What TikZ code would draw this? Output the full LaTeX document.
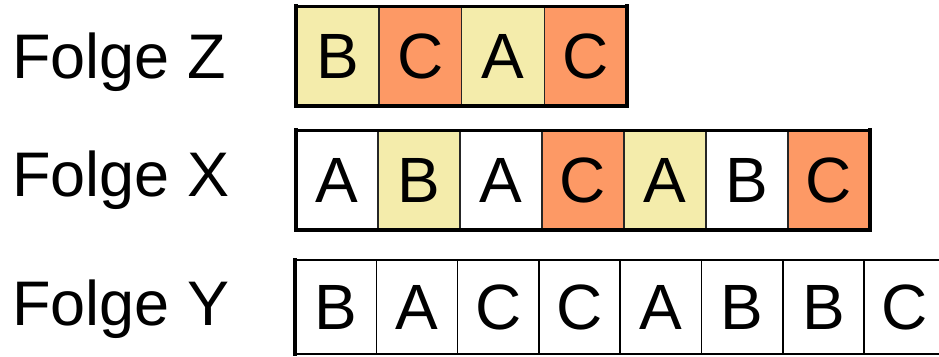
\documentclass[tikz,border=0pt]{standalone}
\usepackage{fontspec}
\setmainfont{Liberation Sans}
\usepackage{tikz}
\usetikzlibrary{positioning}
\definecolor{seqyellow}{HTML}{F4ECAB}
\definecolor{seqorange}{HTML}{FD9965}

\begin{document}
\begin{tikzpicture}[x=1pt, y=-1pt,
    cell/.style={draw=black!85, line width=1.5pt, inner sep=0pt, outer sep=0pt,
      minimum height=100pt, anchor=west, font=\fontsize{64}{64}\selectfont},
    plain/.style={cell, fill=white},
    yel/.style={cell, fill=seqyellow},
    ora/.style={cell, fill=seqorange},
    rowlabel/.style={anchor=base west, inner sep=0pt, font=\fontsize{63}{63}\selectfont},
    frame/.style={line width=4.5pt, line cap=rect}]
    \useasboundingbox (0,0) rectangle (939,356);
    % labels
    \node[rowlabel] (lz) at (12,78) {Folge Z};
    \node[rowlabel] (lx) at (12,196) {Folge X};
    \node[rowlabel] (ly) at (12,325) {Folge Y};
    % Folge Z
    \foreach \ch/\sty [count=\i] in {B/yel, C/ora, A/yel, C/ora}
      \node[\sty, minimum width=82.75pt] (z\i) at ({296+(\i-1)*82.75},56) {\ch};
    \draw[line width=3pt] (z1.north west) -- (z4.north east);
    \draw[frame] (z1.north west) -- (z1.south west) -- (z4.south east) -- (z4.north east);
    % Folge X
    \foreach \ch/\sty [count=\i] in {A/plain, B/yel, A/plain, C/ora, A/yel, B/plain, C/ora}
      \node[\sty, minimum width=82pt] (x\i) at ({296+(\i-1)*82},180) {\ch};
    \draw[line width=3pt] (x1.north west) -- (x7.north east);
    \draw[frame] (x1.north west) -- (x1.south west) -- (x7.south east) -- (x7.north east);
    % Folge Y
    \foreach \ch [count=\i] in {B, A, C, C, A, B, B, C}
      \node[plain, draw=black, minimum width=81.3pt, minimum height=94pt] (y\i) at ({295+(\i-1)*81.3},307) {\ch};
    \draw[frame, line width=4pt] (y1.north west) -- (y1.south west);
  \end{tikzpicture}
\end{document}
